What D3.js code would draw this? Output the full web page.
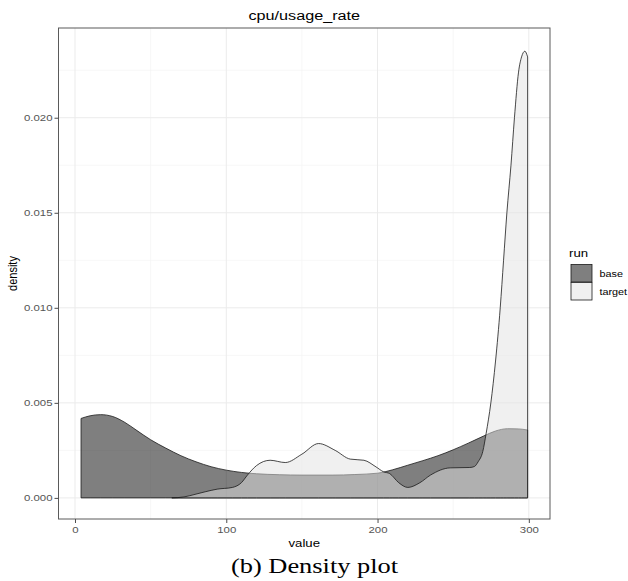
<!DOCTYPE html>
<html>
<head>
<meta charset="utf-8">
<script src="https://cdn.jsdelivr.net/npm/d3@7"></script>
<style>
  body { margin: 0; background: #fff; }
  text { font-family: "Liberation Sans", Arial, sans-serif; }
</style>
</head>
<body>
<div id="chart"></div>
<script>
// values
var baseX = [4, 10, 17, 25, 33, 41, 50, 60, 70, 80, 90, 100, 110, 120, 135, 150, 170, 185, 200, 210, 220, 230, 240, 250, 260, 270, 278, 286, 293, 299.2];
var baseY = [0.00418, 0.00432, 0.00438, 0.00428, 0.00397, 0.00354, 0.00306, 0.00262, 0.00222, 0.0019, 0.00164, 0.00146, 0.00134, 0.00127, 0.00122, 0.0012, 0.0012, 0.00123, 0.0013, 0.00148, 0.00172, 0.00196, 0.00222, 0.00253, 0.00288, 0.00325, 0.00352, 0.00364, 0.00363, 0.00357];

var targetX = [64, 72, 80, 86, 94, 104, 110, 114, 120, 129, 139, 150, 161, 172, 182, 191, 199, 204, 208, 214, 220, 228, 235, 248, 261, 264, 266.5, 269.6, 271.8, 274.9, 278, 281.1, 283.3, 285.5, 288.2, 290.5, 293.2, 295.2, 297.4, 299.2];
var targetY = [0, 0.00005, 0.0002, 0.00032, 0.00046, 0.00055, 0.0008, 0.0012, 0.0017, 0.00198, 0.00186, 0.0023, 0.00286, 0.0025, 0.00204, 0.00198, 0.00163, 0.00137, 0.00128, 0.0008, 0.00055, 0.0008, 0.0012, 0.00158, 0.0016, 0.00165, 0.0019, 0.00245, 0.0034, 0.005, 0.0072, 0.010, 0.0125, 0.015, 0.0175, 0.020, 0.0224, 0.0232, 0.0235, 0.0232];

var runs = ["base", "target"];
var xTicks = [0, 100, 200, 300];
var xMinor = [50, 150, 250];
var yTicks = [0, 0.005, 0.010, 0.015, 0.020];
var yMinor = [0.0025, 0.0075, 0.0125, 0.0175, 0.0225];

var W = 628, H = 581;
var panel = {left: 58.5, right: 550, top: 28, bottom: 519};
var sx = 1.2; // the picture is a bit stretched sideways

var svg = d3.select("#chart").append("svg")
    .attr("width", W)
    .attr("height", H);

var x = d3.scaleLinear().domain([-10.9, 314]).range([panel.left, panel.right]);
var y = d3.scaleLinear().domain([-0.00111, 0.02472]).range([panel.bottom, panel.top]);

var fills = {base: "#000000", target: "#e1e1e1"};

// grid
var grid = svg.append("g");
grid.selectAll(".xminor").data(xMinor).enter().append("line")
    .attr("x1", d => x(d)).attr("x2", d => x(d))
    .attr("y1", panel.top).attr("y2", panel.bottom)
    .style("stroke", "#f3f3f3").style("stroke-width", 0.7);
grid.selectAll(".yminor").data(yMinor).enter().append("line")
    .attr("x1", panel.left).attr("x2", panel.right)
    .attr("y1", d => y(d)).attr("y2", d => y(d))
    .style("stroke", "#f3f3f3").style("stroke-width", 0.7);
grid.selectAll(".xmajor").data(xTicks).enter().append("line")
    .attr("x1", d => x(d)).attr("x2", d => x(d))
    .attr("y1", panel.top).attr("y2", panel.bottom)
    .style("stroke", "#ebebeb").style("stroke-width", 1);
grid.selectAll(".ymajor").data(yTicks).enter().append("line")
    .attr("x1", panel.left).attr("x2", panel.right)
    .attr("y1", d => y(d)).attr("y2", d => y(d))
    .style("stroke", "#ebebeb").style("stroke-width", 1);

// densities
var area = d3.area()
    .x(d => x(d[0]))
    .y0(y(0))
    .y1(d => y(d[1]))
    .curve(d3.curveMonotoneX);

var series = [
  {run: "base", pts: baseX.map((v, i) => [v, baseY[i]])},
  {run: "target", pts: targetX.map((v, i) => [v, targetY[i]])}
];

svg.append("g").selectAll("path").data(series).enter().append("path")
    .attr("d", d => area(d.pts))
    .style("fill", d => fills[d.run])
    .style("fill-opacity", 0.5)
    .style("stroke", "#1a1a1a")
    .style("stroke-width", 0.8);

// panel border
svg.append("rect")
    .attr("x", panel.left).attr("y", panel.top)
    .attr("width", panel.right - panel.left)
    .attr("height", panel.bottom - panel.top)
    .style("fill", "none").style("stroke", "#5a5a5a").style("stroke-width", 1);

// axes
var yAxis = svg.append("g")
    .attr("transform", "translate(" + panel.left + ",0)")
    .call(d3.axisLeft(y).tickValues(yTicks).tickFormat(d3.format(".3f")).tickSize(4).tickPadding(2));
var xAxis = svg.append("g")
    .attr("transform", "translate(0," + panel.bottom + ")")
    .call(d3.axisBottom(x).tickValues(xTicks).tickSize(4).tickPadding(3));

[xAxis, yAxis].forEach(function(ax) {
  ax.select(".domain").remove();
  ax.selectAll(".tick line").style("stroke", "#4d4d4d");
  ax.selectAll("text")
    .style("font-size", "9.5px")
    .style("fill", "#555")
    .attr("x", function() { return (+this.getAttribute("x") || 0) / sx; })
    .attr("transform", "scale(" + sx + ",1)");
});

function label(txt, cx, cy, size, opts) {
  opts = opts || {};
  var t = svg.append("text")
      .attr("transform", "translate(" + cx + "," + cy + ") " + (opts.rotate ? "rotate(-90) scale(1," + sx + ")" : "scale(" + sx + ",1)"))
      .attr("text-anchor", opts.anchor || "middle")
      .style("font-size", size + "px")
      .style("fill", opts.fill || "#000")
      .text(txt);
  if (opts.family) t.style("font-family", opts.family);
  return t;
}

label("cpu/usage_rate", (panel.left + panel.right) / 2, 19.5, 13.5);
label("value", (panel.left + panel.right) / 2, 547, 11);
label("density", 16.5, (panel.top + panel.bottom) / 2, 11, {rotate: true});

// legend
label("run", 569, 257, 11, {anchor: "start"});
var key = svg.append("g").selectAll("g").data(runs).enter().append("g");
key.append("rect")
    .attr("x", 571)
    .attr("y", (d, i) => 264.5 + i * 18)
    .attr("width", 21)
    .attr("height", 17.5)
    .style("fill", "#fff");
key.append("rect")
    .attr("x", 571)
    .attr("y", (d, i) => 264.5 + i * 18)
    .attr("width", 21)
    .attr("height", 17.5)
    .style("fill", d => fills[d])
    .style("fill-opacity", 0.5)
    .style("stroke", "#1a1a1a")
    .style("stroke-width", 0.8);
key.each(function(d, i) {
  label(d, 599.5, 277 + i * 18, 9, {anchor: "start"});
});

// caption
label("(b) Density plot", 314.5, 573, 22, {family: "'Liberation Serif', 'Times New Roman', serif"});
</script>
</body>
</html>
